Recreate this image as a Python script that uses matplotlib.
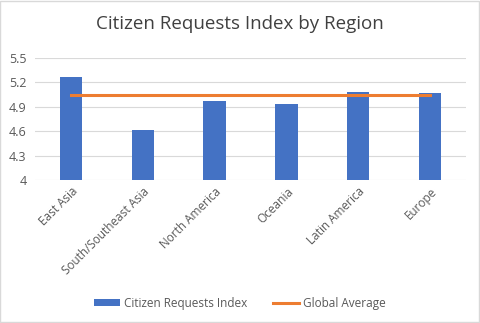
import numpy as np
import matplotlib.pyplot as plt

# data
regions = ['East Asia', 'South/Southeast Asia', 'North America', 'Oceania',
           'Latin America', 'Europe']
index_vals = [5.27, 4.61, 4.97, 4.94, 5.08, 5.07]
global_avg = [5.04, 5.04, 5.04, 5.04, 5.04, 5.04]
yticks = [4, 4.3, 4.6, 4.9, 5.2, 5.5]

plt.rcParams['font.family'] = ['Open Sans', 'DejaVu Sans']

fig = plt.figure(figsize=(4.8, 3.23), dpi=100)
ax = fig.add_axes([35/480, 1 - 180/323, (466 - 35)/480, (180 - 58)/323])

x = np.arange(len(regions))
bars = ax.bar(x, index_vals, width=0.31, color='#4472c4', label='Citizen Requests Index', zorder=2)
line, = ax.plot(x, global_avg, color='#ed7d31', lw=2.2, label='Global Average', zorder=3)

ax.set_xlim(-0.5, len(regions) - 0.5)
ax.set_ylim(4, 5.5)
ax.set_yticks(yticks)
ax.set_yticklabels([f'{v:g}' for v in yticks])
ax.yaxis.grid(True, color='#d9d9d9', lw=0.8)
ax.set_axisbelow(True)
for s in ax.spines.values():
    s.set_visible(False)
ax.tick_params(axis='both', length=0, labelsize=8.5, colors='#595959')
ax.tick_params(axis='y', pad=6, labelsize=9)
ax.set_xticks(x)
ax.set_xticklabels(regions, rotation=45, ha='right', rotation_mode='anchor')

fig.suptitle('Citizen Requests Index by Region', x=0.5, y=0.955, fontsize=13.5, color='#404040')

fig.legend([bars, line], ['Citizen Requests Index', 'Global Average'],
           loc='center', bbox_to_anchor=(0.5, 1 - 303/323), ncol=2, frameon=False,
           fontsize=8.5, labelcolor='#595959', handlelength=2.2, handleheight=0.5,
           columnspacing=2.2, handletextpad=0.3, bbox_transform=fig.transFigure)

fig.patches.append(plt.Rectangle((0.001, 0.002), 0.997, 0.995, transform=fig.transFigure,
                                 fill=False, edgecolor='#d9d9d9', lw=1))

fig.savefig('out.png', dpi=100)
